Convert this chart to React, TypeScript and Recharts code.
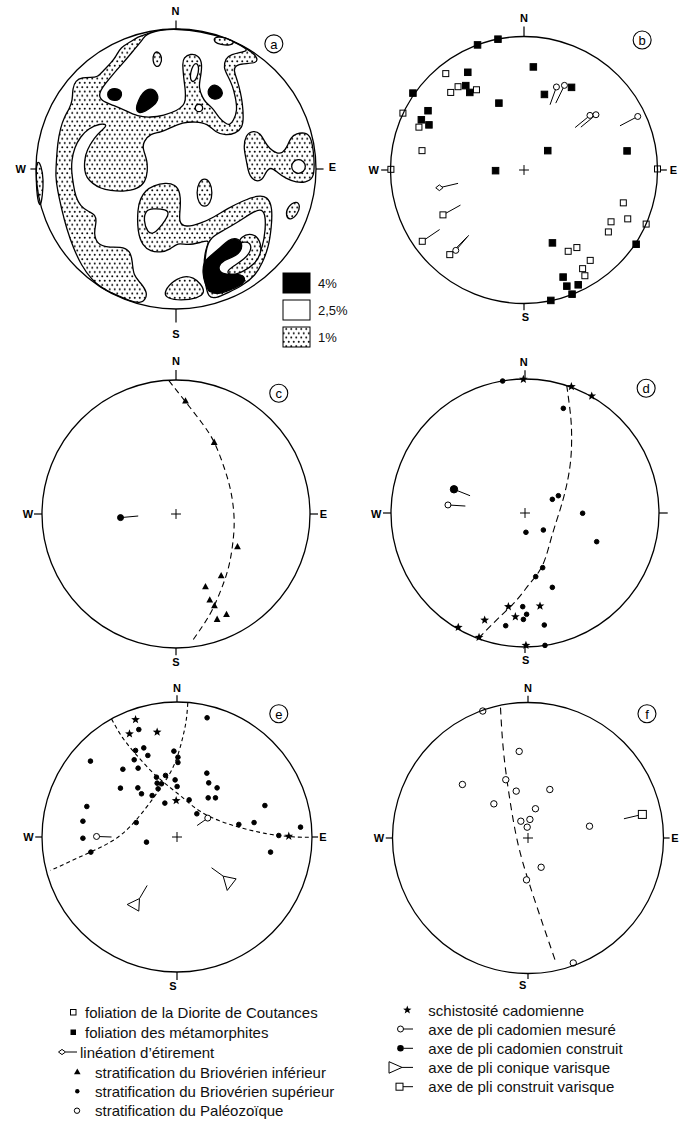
import React from "react"
import { ScatterChart, Scatter, XAxis, YAxis, ReferenceDot, ReferenceLine } from "recharts"

type XY = [number, number]
type Seg = [number, number, number, number]

// all coordinates are in percent of the net radius (x towards E, y towards N)

// ---- (a) density contours ----
const aOnePercentWest: XY[] = [
  [-26.8, 94.6], [-21.8, 96.1], [-11.1, 99.4], [0.4, 100], [17.5, 98.4], [35.4, 93.6], [49.6, 86.8], [58.2, 80.4],
  [58.2, 75.4], [47.5, 75.4], [42.5, 73.9], [41.1, 70.4], [43.9, 63.2], [46.1, 54.6], [47.5, 46.8], [48.2, 36.8],
  [47.5, 29.6], [42.5, 25.4], [35.4, 23.9], [28.2, 26.1], [22.5, 32.5], [13.9, 33.9], [4.6, 33.2], [-3.9, 29.6],
  [-11.1, 26.1], [-18.2, 25.4], [-23.2, 19.6], [-23.9, 14.6], [-20.4, 6.1], [-20.4, -2.5], [-21.8, -8.9], [-27.5, -14.6],
  [-38.2, -16.1], [-46.8, -15.4], [-53.9, -13.9], [-59.6, -10.4], [-63.9, -6.1], [-65.4, -1.1], [-65.4, 6.1], [-63.9, 13.2],
  [-58.2, 22.5], [-53.9, 26.8], [-48.2, 31.8], [-54.6, 32.5], [-62.5, 28.9], [-68.2, 23.2], [-72.5, 15.4], [-74.6, 6.1],
  [-74.6, -2.5], [-73.2, -11.8], [-71.8, -19.6], [-68.2, -26.8], [-62.5, -30.4], [-57.5, -32.5], [-56.8, -38.2], [-58.9, -46.1],
  [-56.1, -53.9], [-48.9, -56.1], [-39.6, -55.4], [-32.5, -58.2], [-31.1, -66.8], [-30.4, -76.1], [-25.4, -81.1], [-20.4, -88.2],
  [-21.8, -93.2], [-25.4, -96.1], [-33.9, -93.9], [-39.6, -91.1], [-45.4, -88.9], [-52.5, -85.4], [-60.4, -78.9], [-67.5, -68.9],
  [-73.2, -56.8], [-78.2, -42.5], [-81.8, -28.2], [-84.6, -15.4], [-86.1, -5.4], [-85.4, 6.1], [-84.6, 18.2], [-82.5, 29.6],
  [-79.6, 37.5], [-76.1, 43.2], [-73.9, 48.9], [-73.9, 57.5], [-71.8, 63.2], [-66.8, 65.4], [-61.1, 65.4], [-56.1, 65.4],
  [-51.8, 70.4], [-46.1, 76.1], [-42.5, 81.1], [-39.6, 86.8], [-33.2, 90.4],
]
const aOnePercentSouth: XY[] = [
  [-27.5, -28.2], [-25.4, -21.1], [-21.8, -15.4], [-16.1, -11.8], [-7.5, -9.6], [-0.4, -11.1], [3.2, -16.8], [3.2, -28.2],
  [1.8, -38.2], [6.8, -41.8], [17.5, -38.9], [26.8, -34.6], [36.8, -28.2], [48.2, -22.5], [58.2, -18.9], [65.4, -19.6],
  [68.9, -27.5], [68.2, -41.8], [66.1, -56.1], [61.8, -66.8], [56.8, -76.1], [47.5, -83.2], [37.5, -88.2], [28.2, -92.5],
  [23.2, -91.8], [21.1, -83.2], [19.6, -68.9], [21.1, -56.8], [24.6, -50.4], [17.5, -52.5], [8.2, -54.6], [1.1, -52.5],
  [-3.9, -57.5], [-11.1, -59.6], [-18.2, -58.9], [-23.9, -54.6], [-27.5, -45.4],
]
const aOnePercentEast: XY[] = [
  [49.6, 24.6], [55.4, 27.5], [60.4, 25.4], [63.2, 19.6], [66.8, 14.6], [71.8, 11.1], [76.1, 11.1], [79.6, 16.1],
  [81.8, 22.5], [86.1, 25.4], [91.8, 26.1], [96.1, 23.9], [98.2, 13.2], [98.9, 2.5], [98.2, -6.8], [92.5, -9.6],
  [86.1, -9.6], [78.2, -6.8], [72.5, -2.5], [67.5, 1.8], [63.9, -2.5], [61.8, -8.2], [56.1, -8.9], [51.8, -3.9],
  [50.4, 6.1], [48.2, 14.6],
]
const aOnePercentSmall: XY[][] = [
  [[20.4, -6.1], [24.6, -9.6], [26.1, -16.8], [24.6, -24.6], [20.4, -27.5], [16.1, -24.6], [14.6, -16.8], [16.1, -9.6]],
  [[86.1, -22.5], [88.9, -26.1], [86.8, -32.5], [81.8, -36.8], [78.2, -33.9], [79.6, -26.8]],
  [[-8.9, -88.9], [-3.9, -81.1], [5.4, -76.1], [12.5, -77.5], [17.5, -81.8], [21.1, -88.2], [15.4, -92.5], [3.2, -93.9], [-6.1, -92.5]],
  [[-99.6, 7.5], [-96.1, 2.5], [-94.6, -8.2], [-95.4, -18.9], [-96.8, -27.5], [-98.9, -22.5], [-100, -8.2]],
]
const aTwoHalfPercent: XY[][] = [
  [
    [-21.8, 96.1], [-23.2, 93.2], [-30.4, 84.6], [-37.5, 76.1], [-44.6, 68.2], [-50.4, 61.1], [-55.4, 53.9], [-53.9, 48.9],
    [-44.6, 45.4], [-36.1, 41.8], [-27.5, 37.5], [-18.2, 36.8], [-8.9, 38.2], [1.1, 41.8], [5.4, 45.4], [6.8, 48.9],
    [6.8, 56.1], [5.4, 65.4], [4.6, 75.4], [5.4, 79.6], [10.4, 82.5], [16.1, 81.1], [18.9, 75.4], [17.5, 65.4],
    [16.1, 58.2], [18.9, 51.1], [21.1, 47.5], [26.1, 43.9], [30.4, 36.8], [35.4, 32.5], [38.2, 31.1], [41.1, 34.6],
    [43.9, 41.8], [42.5, 51.1], [40.4, 59.6], [36.8, 66.8], [33.9, 72.5], [35.4, 78.9], [38.9, 81.8], [49.6, 83.9],
    [51.8, 85.5], [35.4, 93.6], [17.5, 98.4], [0.4, 100], [-11.1, 99.4],
  ],
  [
    [24.6, -48.9], [33.9, -43.9], [43.9, -38.2], [53.2, -31.8], [60.4, -28.2], [63.9, -31.8], [63.9, -43.9], [61.8, -56.1],
    [58.2, -63.2], [51.1, -68.9], [41.1, -73.9], [33.9, -79.6], [26.8, -86.8], [23.2, -88.9], [21.1, -79.6], [20.4, -66.8],
    [21.8, -56.1],
  ],
  [[-21.8, -29.6], [-16.8, -28.2], [-6.8, -28.9], [-4.6, -31.8], [-9.6, -39.6], [-16.1, -46.8], [-20.4, -45.4], [-23.2, -36.8]],
  [[87.5, 7.2], [91.3, 5.6], [92.9, 1.8], [91.3, -2.0], [87.5, -3.6], [83.7, -2.0], [82.1, 1.8], [83.7, 5.6]],
  [[14.2, 76.0], [16.3, 73.9], [16.1, 68.9], [14.3, 63.9], [12.2, 61.8], [10.1, 63.9], [10.3, 68.9], [12.1, 73.9]],
  [[16.4, 46.5], [18.5, 45.7], [19.3, 43.6], [18.5, 41.5], [16.4, 40.7], [14.3, 41.5], [13.5, 43.6], [14.3, 45.7]],
]
// 1% islands lying inside the 2.5% areas
const aOnePercentInner: XY[][] = [
  [[26.8, 93.9], [31.8, 94.6], [38.9, 92.5], [41.8, 90.4], [38.9, 88.2], [31.8, 88.9], [27.5, 90.4]],
  [[-13.2, 84.6], [-9.6, 79.6], [-11.1, 73.9], [-14.6, 72.5], [-16.8, 77.5], [-16.1, 82.5]],
  [
    [46.1, -48.2], [54.6, -45.4], [60.4, -51.1], [61.1, -59.6], [56.8, -67.5], [48.2, -73.2], [40.4, -76.1], [35.4, -73.9],
    [40.4, -69.6], [48.9, -64.6], [53.9, -58.2], [53.2, -52.5], [48.2, -51.8], [44.6, -53.9],
  ],
]
const aFourPercent: XY[][] = [
  [[-43.9, 57.8], [-39.6, 56.5], [-38.5, 53.2], [-40.2, 49.6], [-43.9, 48.6], [-47.8, 49.9], [-49.3, 53.2], [-47.6, 56.8]],
  [[-18.2, 58.2], [-13.2, 54.6], [-12.5, 48.9], [-16.8, 44.6], [-21.8, 41.1], [-26.8, 39.6], [-28.9, 43.2], [-26.8, 48.9], [-23.9, 54.6]],
  [[27.5, 60.5], [32.0, 58.0], [33.8, 54.0], [31.5, 50.5], [27.5, 49.5], [23.5, 51.5], [22.5, 55.5], [24.5, 59.0]],
  [
    [19.6, -66.5], [24.6, -62], [32, -56], [37.5, -50.5], [43.5, -49], [47.5, -53], [46.5, -59], [41, -63],
    [34, -65], [30, -69.5], [31.5, -74.5], [38, -75.5], [45, -75], [49.5, -77], [48.5, -82], [40.5, -85.5],
    [31, -89.5], [24.5, -88.5], [20.5, -82], [19, -74],
  ],
]

// ---- (b) ----
const bFoliationMeta: XY[] = [
  [-19.5, 98.0], [-34.8, 93.7], [7.0, 77.2], [-42.1, 73.2], [-43.6, 63.2], [-40.6, 58.1], [-83.2, 57.6], [35.6, 61.9],
  [15.3, 56.6], [-18.8, 50.1], [-71.9, 44.4], [-76.9, 37.6], [-71.2, 33.8], [17.8, 14.5], [77.2, 14.3], [-21.3, -0.5],
  [21.3, -54.6], [84.0, -55.6], [29.3, -80.2], [32.1, -87.0], [40.6, -86.0], [36.0, -93.0], [20.1, -97.7],
]
const bFoliationDiorite: XY[] = [
  [-58.6, 72.2], [-49.4, 62.4], [-54.9, 58.1], [-35.6, 60.1], [-90.7, 42.6], [-78.7, 32.1], [-76.4, 14.5], [-99.7, 0.5],
  [100, 0.8], [74.4, -24.6], [65.2, -38.8], [77.7, -36.6], [63.2, -46.4], [91.5, -40.5], [33.1, -60.9], [39.6, -58.1],
  [49.6, -67.7], [43.9, -73.9], [45.6, -79.2], [-60.7, -33.6], [-76.2, -53.4], [-55.6, -63.4],
]
const bLineationRound: XY[] = [[24.3, 62.2], [30.3, 63.4], [49.4, 40.9], [53.9, 41.4], [85.2, 40.1], [-51.1, -60.2]]
const bLineationDiamond: XY[] = [[-63.4, -13.3]]
const bLineationTails: Seg[] = [
  [24.3, 62.2, 19.5, 48.9], [30.3, 63.4, 23.8, 50.1], [49.4, 40.9, 38.3, 31.8], [53.9, 41.4, 42.6, 32.1],
  [85.2, 40.1, 71.9, 33.1], [-63.4, -13.3, -49.4, -10.0], [-60.7, -33.6, -47.6, -26.3], [-76.2, -53.4, -63.2, -44.6],
  [-51.1, -60.2, -41.4, -48.9], [-55.6, -63.4, -42.6, -50.1],
]

// ---- (c) ----
const cStratInf: XY[] = [[7.1, 84.3], [28.5, 53.5], [45.9, -24.4], [33.7, -46.0], [22.0, -54.2], [25.2, -64.2], [28.7, -68.4], [30.7, -78.6], [37.7, -74.9]]
const cAxisBuilt: XY[] = [[-41.4, -2.7]]
const cAxisBuiltTails: Seg[] = [[-41.4, -2.7, -28.2, -1.5]]
const cGreatCircle: XY[] = [
  [-5.3, 99.5], [7.1, 83.8], [19.5, 67.7], [28.5, 53.5], [35.7, 35.3], [40.7, 17.9], [43.2, 0], [42.9, -16.9],
  [39.9, -36.8], [34.5, -54.2], [27.0, -71.6], [19.5, -84.1], [11.3, -96.0],
]

// ---- (d) ----
const dStratSup: XY[] = [
  [-16.7, 98.5], [28.6, 78.1], [20.4, 10.2], [24.9, 12.9], [43.0, -0.2], [0.7, -14.4], [13.7, -12.7], [53.5, -21.4],
  [13.2, -40.8], [8.0, -47.5], [20.4, -55.5], [-1.7, -69.9], [1.2, -75.6], [-1.2, -79.4], [-14.4, -84.1], [14.4, -83.6], [14.9, -98.8],
]
const dSchist: XY[] = [[-1.2, 99.8], [34.6, 94.3], [49.8, 87.3], [-12.4, -69.9], [11.2, -69.4], [-7.2, -77.4], [-30.1, -79.9], [-49.8, -85.3], [-34.3, -92.8], [0.7, -98.8]]
const dAxisBuilt: XY[] = [[-53.0, 17.7]]
const dAxisMeasured: XY[] = [[-57.5, 6.0]]
const dAxisTails: Seg[] = [[-53.0, 17.7, -41.0, 12.9], [-57.5, 6.0, -44.5, 5.2]]
const dGreatCircle: XY[] = [
  [31.1, 95.5], [32.3, 86.8], [34.1, 71.9], [34.8, 57.0], [34.1, 39.6], [31.1, 20.9], [26.1, 2.2], [19.9, -17.7],
  [13.2, -38.8], [3.7, -52.5], [-6.2, -64.9], [-18.7, -77.4], [-33.6, -92.3],
]

// ---- (e) ----
const eStratSup: XY[] = [
  [22.3, 88.3], [-28.3, 79.6], [-64.1, 56.2], [-30.7, 64.1], [-24.6, 66.0], [-21.6, 60.4], [-2.3, 63.6], [0.7, 59.1],
  [0.7, 55.2], [-31.7, 57.2], [-40.1, 50.2], [-28.8, 51.0], [-15.2, 44.3], [-8.5, 45.6], [-1.4, 42.3], [-14.7, 39.9],
  [-11.5, 39.4], [-14.0, 35.7], [0.1, 37.4], [-41.9, 36.2], [-29.0, 36.4], [-26.3, 32.0], [-18.4, 30.7], [-9.0, 25.1],
  [9.0, 27.5], [22.1, 47.3], [23.5, 40.1], [29.7, 36.4], [23.1, 29.0], [28.5, 29.0], [-66.8, 22.6], [-69.7, 11.7],
  [-69.7, -0.9], [-30.2, 10.7], [14.7, 17.2], [-22.6, -3.8], [65.1, 23.3], [45.8, 9.3], [57.1, 10.7], [91.5, 7.3],
  [75.4, 1.1], [69.3, -11.2], [-63.8, -11.2],
]
const eSchist: XY[] = [[-30.7, 87.0], [-35.2, 76.4], [-14.7, 77.7], [-0.6, 27.0], [82.8, 0.6]]
const eAxisMeasured: XY[] = [[22.8, 14.0], [-59.6, 0.4]]
const eConicAxes: XY[][] = [
  [[34.2, -29.0], [43.8, -31.0], [37.2, -39.6]],
  [[-27.8, -45.6], [-36.9, -50.0], [-28.3, -54.9]],
]
const eTails: Seg[] = [[22.8, 14.0, 14.9, 8.5], [-59.6, 0.4, -48.5, 0], [34.2, -29.0, 25.6, -22.8], [-27.8, -45.6, -22.1, -35.9]]
const eGreatCircle1: XY[] = [
  [8.0, 99.4], [6.8, 86.3], [4.3, 74.0], [0.9, 61.6], [-4.1, 49.3], [-11.0, 38.1], [-18.9, 27.0], [-29.5, 13.5],
  [-40.6, 2.3], [-51.7, -5.1], [-64.1, -11.2], [-77.7, -17.4], [-93.7, -24.8],
]
const eGreatCircle2: XY[] = [
  [-48.5, 87.5], [-40.6, 74.0], [-30.7, 61.6], [-19.6, 49.3], [-8.5, 39.4], [3.8, 29.5], [16.2, 19.6], [31.0, 12.2],
  [45.8, 7.3], [60.6, 3.6], [75.4, 1.1], [90.2, -0.1], [99.6, -0.1],
]

// ---- (f) ----
const fStratPal: XY[] = [
  [-33.4, 93.7], [-6.5, 63.9], [-48.4, 39.5], [-16.4, 43.0], [-8.7, 34.6], [16.1, 35.8], [-25.2, 25.2], [5.5, 21.6],
  [1.4, 13.7], [-5.3, 12.4], [-0.6, 8.0], [45.4, 8.7], [9.7, -21.6], [-1.1, -30.9], [33.4, -92.2],
]
const fAxisVarisque: XY[] = [[84.4, 17.4]]
const fTails: Seg[] = [[84.4, 17.4, 70.8, 14.2]]
const fGreatCircle: XY[] = [[-20.3, 96.2], [-17.9, 62.2], [-12.9, 25.2], [-6.8, -6.8], [1.8, -36.3], [11.7, -65.9], [21.0, -93.0]]

// ---- net frames ----
interface NetSpec {
  cx: number
  cy: number
  radius: number
  letter: string
  letterAt: XY
  labels: [string, number, number][]
  ticks: Seg[]
  cross: boolean
}

const netA: NetSpec = { cx: 175.5, cy: 168.5, radius: 140, letter: "a", letterAt: [69.9, 89.4],
  labels: [["N", -0.4, 113.2], ["S", 0, -117.5], ["W", -111, 0], ["E", 111.8, 1.3]],
  ticks: [[0, 100, 0, 106], [0, -100, 0, -109.6], [-100, 0, -104, 0], [100, 0, 105.4, 0]], cross: false }
const netB: NetSpec = { cx: 523.5, cy: 170, radius: 133.5, letter: "b", letterAt: [88.5, 97.4],
  labels: [["N", 0, 114], ["S", 1, -110], ["W", -112.5, 0], ["E", 112, 0]],
  ticks: [[0, 100, 0, 107.5], [0, -100, 0, -105], [-100, 0, -107, 0], [100, 0, 107, 0]], cross: true }
const netC: NetSpec = { cx: 175.5, cy: 514, radius: 134, letter: "c", letterAt: [76.7, 90.1],
  labels: [["N", 0, 114], ["S", 0, -110.5], ["W", -110.5, 0], ["E", 110, 0]],
  ticks: [[0, 100, 0, 107.5], [0, -100, 0, -105.5], [-100, 0, -106, 0], [100, 0, 106, 0]], cross: true }
const netD: NetSpec = { cx: 525, cy: 513, radius: 134, letter: "d", letterAt: [90.4, 93.1],
  labels: [["N", -1, 113], ["S", 0.5, -110], ["W", -111, -1]],
  ticks: [[0, 100, 0, 106.5], [0, -100, 0, -104.5], [-100, 0, -106, 0], [100, 0, 106.5, 0]], cross: true }
const netE: NetSpec = { cx: 176.5, cy: 836.5, radius: 135, letter: "e", letterAt: [75.4, 91.3],
  labels: [["N", 0, 110.5], ["S", -3, -110], ["W", -110, 0], ["E", 108, 0]],
  ticks: [[0, 100, 0, 105], [0, -100, 0, -106], [-100, 0, -105, 0], [100, 0, 104.5, 0]], cross: true }
const netF: NetSpec = { cx: 527.5, cy: 837.5, radius: 135.5, letter: "f", letterAt: [87.8, 91.7],
  labels: [["N", 0, 110.5], ["S", -4, -108.5], ["W", -110, 0], ["E", 108.5, 0]],
  ticks: [[0, 100, 0, 105], [0, -100, 0, -104], [-100, 0, -105, 0], [100, 0, 104.5, 0]], cross: true }

const crossArms: Seg[] = [[-3.7, 0, 3.7, 0], [0, -3.7, 0, 3.7]]

const SIZE = 340
const FONT = "'Liberation Sans', Arial, Helvetica, sans-serif"
const toPts = (a: XY[]) => a.map(([x, y]) => ({ x, y }))

// ---- mark shapes ----
const noMark = () => <g />
const square = (s: number, filled: boolean) => (p: any) => (
  <rect x={p.cx - s / 2} y={p.cy - s / 2} width={s} height={s} fill={filled ? "#000" : "#fff"} stroke="#000" strokeWidth={1} />
)
const disc = (r: number, filled: boolean) => (p: any) => (
  <circle cx={p.cx} cy={p.cy} r={r} fill={filled ? "#000" : "#fff"} stroke="#000" strokeWidth={1} />
)
const diamond = (r: number) => (p: any) => (
  <polygon points={`${p.cx - r},${p.cy} ${p.cx},${p.cy - r * 0.8} ${p.cx + r},${p.cy} ${p.cx},${p.cy + r * 0.8}`} fill="#fff" stroke="#000" strokeWidth={1} />
)
const triangle = (s: number) => (p: any) => (
  <polygon points={`${p.cx},${p.cy - s * 0.55} ${p.cx + s / 2},${p.cy + s * 0.38} ${p.cx - s / 2},${p.cy + s * 0.38}`} fill="#000" />
)
const starPoints = (cx: number, cy: number, r: number) => {
  const out: string[] = []
  for (let i = 0; i < 10; i++) {
    const a = -Math.PI / 2 + (i * Math.PI) / 5
    const rr = i % 2 === 0 ? r : r * 0.42
    out.push(`${cx + rr * Math.cos(a)},${cy + rr * Math.sin(a)}`)
  }
  return out.join(" ")
}
const star = (r: number) => (p: any) => <polygon points={starPoints(p.cx, p.cy, r)} fill="#000" />
const compassLabel = (p: any) => (
  <text x={p.cx} y={p.cy} textAnchor="middle" dominantBaseline="central" fontFamily={FONT} fontWeight="bold" fontSize={11}>
    {p.payload.text}
  </text>
)
const panelLetter = (p: any) => (
  <g>
    <circle cx={p.cx} cy={p.cy} r={9} fill="#fff" stroke="#000" strokeWidth={1.1} />
    <text x={p.cx} y={p.cy + 0.5} textAnchor="middle" dominantBaseline="central" fontFamily={FONT} fontSize={13}>
      {p.payload.text}
    </text>
  </g>
)

const area = (key: string, pts: XY[], fill: string) => (
  <Scatter key={key} data={toPts(pts)} shape={noMark} isAnimationActive={false}
    line={{ stroke: "#000", strokeWidth: 1.3, fill }} lineType="joint" lineJointType="basisClosed" />
)
const tails = (key: string, segs: Seg[], dash?: string) =>
  segs.map(([x1, y1, x2, y2], i) => (
    <Scatter key={key + i} data={[{ x: x1, y: y1 }, { x: x2, y: y2 }]} shape={noMark} isAnimationActive={false}
      line={{ stroke: "#000", strokeWidth: 1, strokeDasharray: dash }} />
  ))
const dashed = (key: string, pts: XY[], dash: string) => (
  <Scatter key={key} data={toPts(pts)} shape={noMark} isAnimationActive={false}
    line={{ stroke: "#000", strokeWidth: 1.1, strokeDasharray: dash }} lineJointType="natural" />
)
const marks = (key: string, pts: XY[], shape: (p: any) => React.ReactElement) => (
  <Scatter key={key} data={toPts(pts)} shape={shape} isAnimationActive={false} />
)

function Net({ spec, children, defs }: { spec: NetSpec; children?: React.ReactNode; defs?: React.ReactNode }) {
  const d = (100 * SIZE) / (2 * spec.radius)
  const labels = spec.labels.map(([text, x, y]) => ({ x, y, text }))
  return (
    <div style={{ position: "absolute", left: spec.cx - SIZE / 2, top: spec.cy - SIZE / 2 }}>
      <ScatterChart width={SIZE} height={SIZE} margin={{ top: 0, right: 0, bottom: 0, left: 0 }}>
        {defs}
        <XAxis type="number" dataKey="x" domain={[-d, d]} hide />
        <YAxis type="number" dataKey="y" domain={[-d, d]} hide />
        {children}
        <ReferenceDot x={0} y={0} r={spec.radius} fill="none" stroke="#000" strokeWidth={1.3} />
        {spec.ticks.map(([x1, y1, x2, y2], i) => (
          <ReferenceLine key={"tick" + i} segment={[{ x: x1, y: y1 }, { x: x2, y: y2 }]} stroke="#000" strokeWidth={1.2} />
        ))}
        {spec.cross &&
          crossArms.map(([x1, y1, x2, y2], i) => (
            <ReferenceLine key={"cross" + i} segment={[{ x: x1, y: y1 }, { x: x2, y: y2 }]} stroke="#000" strokeWidth={1} />
          ))}
        <Scatter data={labels} shape={compassLabel} isAnimationActive={false} />
        <Scatter data={[{ x: spec.letterAt[0], y: spec.letterAt[1], text: spec.letter }]} shape={panelLetter} isAnimationActive={false} />
      </ScatterChart>
    </div>
  )
}

const dotPattern = (id: string) => (
  <defs>
    <pattern id={id} width={5} height={8.6} patternUnits="userSpaceOnUse">
      <rect width={5} height={8.6} fill="#fff" />
      <circle cx={1.25} cy={2.15} r={1} fill="#000" />
      <circle cx={3.75} cy={6.45} r={1} fill="#000" />
    </pattern>
  </defs>
)

export default function App() {
  const txt = { fontFamily: FONT, fontSize: 15, fill: "#111", dominantBaseline: "central" as const }
  return (
    <div style={{ position: "absolute", left: 0, top: 0, width: 680, height: 1121, overflow: "hidden", background: "#fff" }}>
      <Net spec={netA} defs={dotPattern("dotsA")}>
        {area("w1", aOnePercentWest, "url(#dotsA)")}
        {area("s1", aOnePercentSouth, "url(#dotsA)")}
        {area("e1", aOnePercentEast, "url(#dotsA)")}
        {aOnePercentSmall.map((p, i) => area("m1" + i, p, "url(#dotsA)"))}
        {aTwoHalfPercent.map((p, i) => area("m2" + i, p, "#fff"))}
        {aOnePercentInner.map((p, i) => area("i1" + i, p, "url(#dotsA)"))}
        {aFourPercent.map((p, i) => area("m4" + i, p, "#000"))}
      </Net>

      <Net spec={netB}>
        {tails("bt", bLineationTails)}
        {marks("bd", bFoliationDiorite, square(6, false))}
        {marks("bm", bFoliationMeta, square(6.5, true))}
        {marks("bl", bLineationRound, disc(3, false))}
        {marks("bld", bLineationDiamond, diamond(3.6))}
      </Net>

      <Net spec={netC}>
        {dashed("cg", cGreatCircle, "6 4")}
        {tails("ct", cAxisBuiltTails)}
        {marks("ci", cStratInf, triangle(6.8))}
        {marks("cb", cAxisBuilt, disc(3, true))}
      </Net>

      <Net spec={netD}>
        {dashed("dg", dGreatCircle, "7 4")}
        {tails("dt", dAxisTails)}
        {marks("ds", dStratSup, disc(2.3, true))}
        {marks("dx", dSchist, star(4.6))}
        {marks("db", dAxisBuilt, disc(3.7, true))}
        {marks("dm", dAxisMeasured, disc(3, false))}
      </Net>

      <Net spec={netE}>
        {dashed("eg1", eGreatCircle1, "4 3")}
        {dashed("eg2", eGreatCircle2, "4 3")}
        {tails("et", eTails)}
        {eConicAxes.map((p, i) => (
          <Scatter key={"ec" + i} data={toPts(p)} shape={noMark} isAnimationActive={false}
            line={{ stroke: "#000", strokeWidth: 1, fill: "#fff" }} lineJointType="linearClosed" />
        ))}
        {marks("es", eStratSup, disc(2.3, true))}
        {marks("ex", eSchist, star(4.6))}
        {marks("em", eAxisMeasured, disc(3, false))}
      </Net>

      <Net spec={netF}>
        {dashed("fg", fGreatCircle, "7 5")}
        {tails("ft", fTails)}
        {marks("fp", fStratPal, disc(3.2, false))}
        {marks("fv", fAxisVarisque, square(8, false))}
      </Net>

      <svg width={680} height={1121} style={{ position: "absolute", left: 0, top: 0, pointerEvents: "none" }}>
        {dotPattern("dotsLegend")}
        {/* density key of (a) */}
        <rect x={283} y={273} width={27} height={20} fill="#000" stroke="#000" />
        <rect x={283} y={300} width={27} height={20} fill="#fff" stroke="#000" />
        <rect x={283} y={327} width={27} height={20} fill="url(#dotsLegend)" stroke="#000" />
        <text x={318} y={283} {...txt} fontSize={13}>4%</text>
        <text x={318} y={310} {...txt} fontSize={13}>2,5%</text>
        <text x={318} y={337} {...txt} fontSize={13}>1%</text>

        {/* symbol key, left column */}
        <rect x={70.5} y={1009.5} width={5.5} height={5.5} fill="#fff" stroke="#000" />
        <text x={85} y={1012.2} {...txt}>foliation de la Diorite de Coutances</text>
        <rect x={70.5} y={1029.5} width={5.5} height={5.5} fill="#000" />
        <text x={85} y={1032.2} {...txt}>foliation des métamorphites</text>
        <polygon points="58.5,1052 62,1049.4 65.5,1052 62,1054.6" fill="#fff" stroke="#000" />
        <line x1={65.5} y1={1052} x2={77} y2={1052} stroke="#000" />
        <text x={80} y={1052} {...txt}>linéation d’étirement</text>
        <polygon points="77.3,1068.5 80.6,1074.3 74,1074.3" fill="#000" />
        <text x={95} y={1072} {...txt}>stratification du Briovérien inférieur</text>
        <circle cx={77.3} cy={1091.3} r={2.2} fill="#000" />
        <text x={95} y={1091.3} {...txt}>stratification du Briovérien supérieur</text>
        <circle cx={77} cy={1110.7} r={2.7} fill="#fff" stroke="#000" />
        <text x={95} y={1110.7} {...txt}>stratification du Paléozoïque</text>

        {/* symbol key, right column */}
        <polygon points={starPoints(407.3, 1010, 4.4)} fill="#000" />
        <text x={428.3} y={1010} {...txt}>schistosité cadomienne</text>
        <circle cx={400.5} cy={1029} r={3} fill="#fff" stroke="#000" />
        <line x1={403.5} y1={1029} x2={413} y2={1029} stroke="#000" />
        <text x={428.3} y={1029} {...txt}>axe de pli cadomien mesuré</text>
        <circle cx={400.5} cy={1048.3} r={3.3} fill="#000" />
        <line x1={403.5} y1={1048.3} x2={413} y2={1048.3} stroke="#000" />
        <text x={428.3} y={1048.3} {...txt}>axe de pli cadomien construit</text>
        <polygon points="389,1061.7 402,1067.4 389,1073.2" fill="#fff" stroke="#000" />
        <line x1={402} y1={1067.4} x2={413} y2={1067.4} stroke="#000" />
        <text x={428.3} y={1067.4} {...txt}>axe de pli conique varisque</text>
        <rect x={396} y={1083.2} width={7} height={7} fill="#fff" stroke="#000" />
        <line x1={403} y1={1086.7} x2={413} y2={1086.7} stroke="#000" />
        <text x={428.3} y={1086.7} {...txt}>axe de pli construit varisque</text>
      </svg>
    </div>
  )
}
